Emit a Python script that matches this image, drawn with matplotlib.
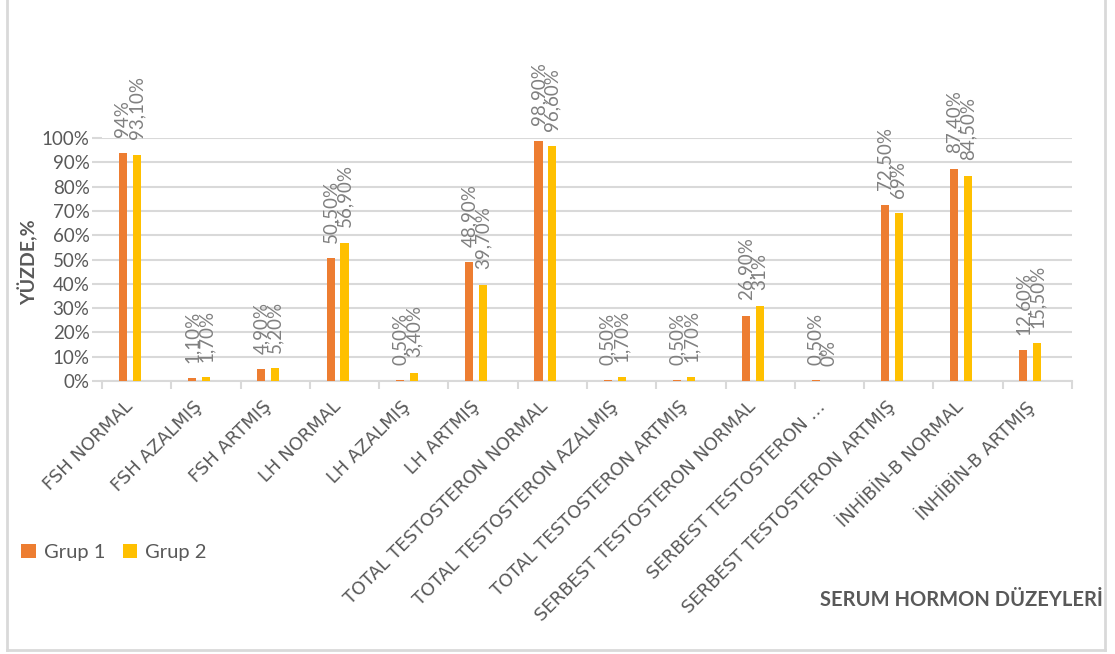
import matplotlib.pyplot as plt
import matplotlib.transforms as mtransforms
import numpy as np
from matplotlib.lines import Line2D
from matplotlib.ticker import FuncFormatter

plt.rcParams['font.family'] = ['Lato', 'DejaVu Sans']

# data
categories = ["FSH NORMAL", "FSH AZALMIŞ", "FSH ARTMIŞ", "LH NORMAL", "LH AZALMIŞ",
              "LH ARTMIŞ", "TOTAL TESTOSTERON NORMAL", "TOTAL TESTOSTERON AZALMIŞ",
              "TOTAL TESTOSTERON ARTMIŞ", "SERBEST TESTOSTERON NORMAL",
              "SERBEST TESTOSTERON …", "SERBEST TESTOSTERON ARTMIŞ",
              "İNHİBİN-B NORMAL", "İNHİBİN-B ARTMIŞ"]
grup1 = [94, 1.1, 4.9, 50.5, 0.5, 48.9, 98.9, 0.5, 0.5, 26.9, 0.5, 72.5, 87.4, 12.6]
grup2 = [93.1, 1.7, 5.2, 56.9, 3.4, 39.7, 96.6, 1.7, 1.7, 31, 0, 69, 84.5, 15.5]
y_ticks = [0, 10, 20, 30, 40, 50, 60, 70, 80, 90, 100]

ORANGE = '#ED7D31'
YELLOW = '#FFC000'
GRID = '#D9D9D9'
TXT = '#595959'
LBL = '#808080'


def tr_pct(v):
    # turkish style percent label
    if float(v).is_integer():
        return f"{int(v)}%"
    return f"{v:.2f}%".replace('.', ',')


fig = plt.figure(figsize=(11.15, 6.54), dpi=100)
ax = fig.add_axes([0.0915, 0.4174, 0.8699, 0.3716])

x = np.arange(len(categories))
w = 0.116
b1 = ax.bar(x - 0.2, grup1, width=w, color=ORANGE, label='Grup 1', zorder=3)
b2 = ax.bar(x, grup2, width=w, color=YELLOW, label='Grup 2', zorder=3)

# value labels above bars (they overlap in the original too)
for bars, vals in [(b1, grup1), (b2, grup2)]:
    for rect, v in zip(bars, vals):
        ax.annotate(tr_pct(v), (rect.get_x() + rect.get_width() / 2, rect.get_height()),
                    xytext=(0, 11), textcoords='offset points', rotation=90,
                    ha='center', va='bottom', fontsize=13.5, color=LBL)

ax.set_xlim(-0.5, len(categories) - 0.5)
ax.set_ylim(0, 100)
ax.set_yticks(y_ticks)
ax.yaxis.set_major_formatter(FuncFormatter(lambda v, p: f"{int(v)}%"))
ax.tick_params(axis='y', length=7, width=1.5, color=GRID, labelsize=13.5, labelcolor=TXT, pad=2)
ax.grid(axis='y', color=GRID, linewidth=1.5, zorder=0)

# category boundaries as ticks, labels in the middle
ax.set_xticks(np.arange(len(categories) + 1) - 0.5)
ax.set_xticklabels([])
ax.tick_params(axis='x', length=6, width=1.5, color=GRID)
ax.set_xticks(x, minor=True)
ax.set_xticklabels(categories, minor=True, rotation=45, ha='right', va='top',
                   rotation_mode='anchor', fontsize=13, color=TXT)
ax.tick_params(axis='x', which='minor', length=0, pad=12)
shift = mtransforms.ScaledTranslation(-13 / 100, 0, fig.dpi_scale_trans)
for lab in ax.get_xticklabels(minor=True):
    lab.set_fontfamily('DejaVu Sans')
    lab.set_transform(lab.get_transform() + shift)

for s in ['top', 'right', 'left']:
    ax.spines[s].set_visible(False)
ax.spines['bottom'].set_color(GRID)
ax.spines['bottom'].set_linewidth(1.5)

fig.text(28 / 1115, 1 - 262 / 654, 'YÜZDE,%', rotation=90, ha='center', va='center',
         fontsize=14, fontweight='bold', color=TXT)

fig.text(0.989, 0.082, 'SERUM HORMON DÜZEYLERİ', ha='right', va='center',
         fontsize=14.5, fontweight='bold', color=TXT)

fig.legend(handles=[b1, b2], loc='center left', bbox_to_anchor=(0.003, 0.155),
           ncol=2, frameon=False, fontsize=14.5, labelcolor=TXT,
           handlelength=0.7, handleheight=0.7, handletextpad=0.4, columnspacing=0.9)

# outer frame
for xs, ys in [([0.0063, 0.0063], [0.006, 1.0]), ([0.991, 0.991], [0.006, 1.0]),
               ([0.0063, 0.991], [0.006, 0.006])]:
    fig.add_artist(Line2D(xs, ys, transform=fig.transFigure, color=GRID, linewidth=2))

fig.savefig('out.png', dpi=100)
